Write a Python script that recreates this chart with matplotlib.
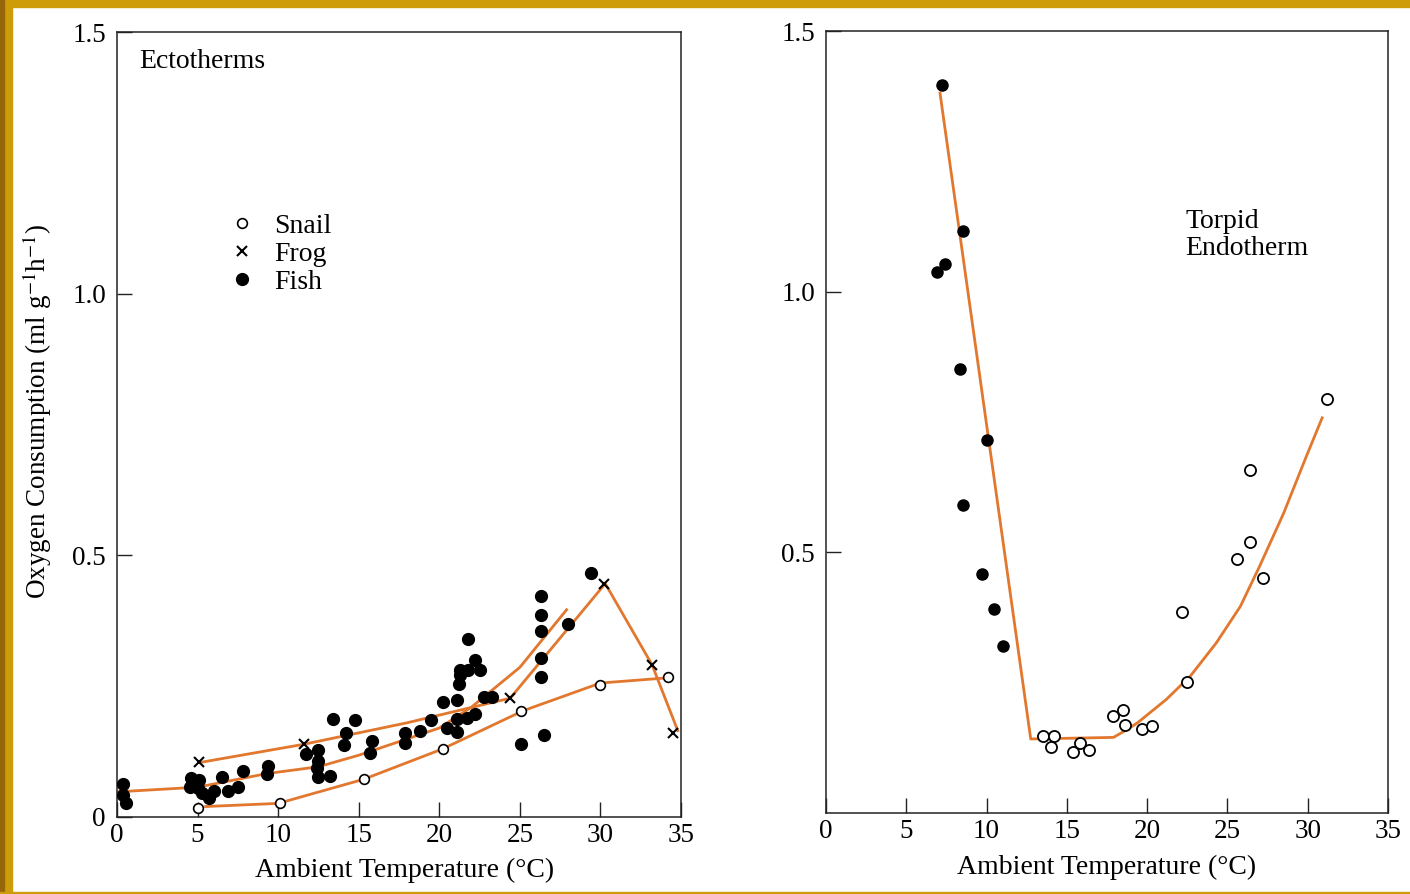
import matplotlib.pyplot as plt
from matplotlib.lines import Line2D
from matplotlib.patches import Rectangle

plt.rcParams['font.family'] = ['Liberation Serif', 'DejaVu Serif']
plt.rcParams['mathtext.fontset'] = 'stix'

orange = '#E2772E'

# ---- left panel: ectotherms ----
snail_x = [5.0, 10.1, 15.3, 20.2, 25.1, 30.0, 34.2]
snail_y = [0.017, 0.026, 0.072, 0.130, 0.203, 0.252, 0.267]
snail_line_x = [5.5, 10.0, 15.3, 20.2, 25.2, 30.0, 34.2]
snail_line_y = [0.020, 0.026, 0.072, 0.130, 0.203, 0.256, 0.266]

frog_x = [5.1, 11.6, 24.4, 30.2, 33.2, 34.5]
frog_y = [0.105, 0.139, 0.227, 0.445, 0.291, 0.160]
frog_line_x = [5.3, 11.6, 18.0, 24.4, 30.3, 33.2, 34.8]
frog_line_y = [0.105, 0.139, 0.180, 0.227, 0.446, 0.291, 0.165]

fish_x = [0.4, 0.4, 0.55, 4.6, 4.5, 5.1, 5.0, 5.3, 5.7, 6.0, 6.5, 6.9, 7.5, 7.8,
          9.4, 9.3, 11.7, 12.5, 12.5, 12.4, 12.5, 13.2, 13.4, 14.8, 14.2, 14.1,
          15.8, 15.7, 17.9, 17.9, 18.8, 19.5, 20.2, 21.1, 20.5, 21.1, 21.1, 21.7,
          22.2, 21.2, 21.3, 21.3, 21.8, 22.2, 22.5, 21.8, 22.8, 23.3, 25.1, 26.5,
          26.3, 26.3, 26.3, 26.3, 26.3, 28.0, 29.4]
fish_y = [0.064, 0.042, 0.026, 0.074, 0.058, 0.070, 0.055, 0.045, 0.037, 0.050,
          0.076, 0.050, 0.058, 0.088, 0.097, 0.083, 0.121, 0.128, 0.107, 0.093,
          0.076, 0.078, 0.187, 0.185, 0.161, 0.137, 0.145, 0.123, 0.161, 0.142,
          0.164, 0.186, 0.219, 0.224, 0.171, 0.162, 0.187, 0.189, 0.197, 0.255,
          0.272, 0.280, 0.281, 0.300, 0.280, 0.340, 0.229, 0.229, 0.139, 0.156,
          0.423, 0.386, 0.355, 0.303, 0.267, 0.368, 0.467]
fish_line_x = [0, 5, 9.3, 12.5, 15, 20, 22, 25, 27.9]
fish_line_y = [0.048, 0.057, 0.083, 0.096, 0.118, 0.170, 0.210, 0.286, 0.396]

# ---- right panel: torpid endotherm ----
torpid_x = [7.24, 8.54, 7.39, 6.93, 8.33, 10.0, 8.54, 9.69, 10.47, 11.05]
torpid_y = [1.397, 1.117, 1.054, 1.037, 0.851, 0.715, 0.591, 0.459, 0.392, 0.321]
active_x = [13.5, 14.2, 14.0, 15.4, 15.8, 16.4, 17.9, 18.5, 18.6, 19.7, 20.3,
            22.2, 22.5, 25.6, 26.4, 26.4, 27.2, 31.2]
active_y = [0.147, 0.148, 0.126, 0.117, 0.134, 0.121, 0.186, 0.197, 0.169, 0.162,
            0.167, 0.386, 0.252, 0.488, 0.520, 0.658, 0.451, 0.794]
endo_line_x = [7.1, 12.75, 17.9, 18.8, 19.4, 21.2, 22.7, 24.3, 25.8, 27.0, 28.5, 29.9, 30.9]
endo_line_y = [1.381, 0.142, 0.145, 0.161, 0.173, 0.218, 0.263, 0.326, 0.396, 0.473,
               0.575, 0.683, 0.758]

xticks = [0, 5, 10, 15, 20, 25, 30, 35]

fig = plt.figure(figsize=(14.10, 8.94), dpi=100)
fig.patch.set_facecolor('white')
# scanned-page border
fig.add_artist(Rectangle((0, 1 - 7 / 894), 1, 7 / 894, transform=fig.transFigure,
                         color='#CE9C08', zorder=0))
fig.add_artist(Rectangle((0, 0), 12 / 1410, 1, transform=fig.transFigure,
                         color='#CE9C08', zorder=0))
fig.add_artist(Rectangle((0, 0), 4 / 1410, 1, transform=fig.transFigure,
                         color='#96660A', zorder=0))
fig.add_artist(Rectangle((0, 0), 1, 2.5 / 894, transform=fig.transFigure,
                         color='#CE9C08', zorder=0))

ax1 = fig.add_axes([117 / 1410, 77 / 894, 564 / 1410, 785 / 894])
ax2 = fig.add_axes([826 / 1410, 81 / 894, 562 / 1410, 782 / 894])

for ax in (ax1, ax2):
    ax.set_xlim(0, 35)
    ax.set_ylim(0, 1.5)
    ax.set_xticks(xticks)
    ax.tick_params(direction='in', length=11, width=1, labelsize=19.5,
                   top=False, right=False, color='#222222')
    ax.tick_params(axis='x', pad=4)
    ax.tick_params(axis='y', pad=8)
    for s in ax.spines.values():
        s.set_linewidth(1.1)
        s.set_color('#222222')

ax1.set_yticks([0, 0.5, 1.0, 1.5])
ax1.set_yticklabels(['0', '0.5', '1.0', '1.5'])
ax2.set_yticks([0.5, 1.0, 1.5])
ax2.set_yticklabels(['0.5', '1.0', '1.5'])

# left panel
ax1.plot(snail_line_x, snail_line_y, color=orange, lw=2)
ax1.plot(frog_line_x, frog_line_y, color=orange, lw=2)
ax1.plot(fish_line_x, fish_line_y, color=orange, lw=2)
ax1.plot(fish_x, fish_y, 'o', ms=8.5, color='black', ls='none', zorder=3)
ax1.plot(snail_x, snail_y, 'o', ms=7, mfc='white', mec='black', mew=1.2, ls='none', zorder=4)
ax1.plot(frog_x, frog_y, 'x', ms=6.5, mec='black', mew=1.5, ls='none', zorder=4)

ax1.text(0.039, 0.962, 'Ectotherms', transform=ax1.transAxes, fontsize=20,
         va='center', ha='left')

handles = [Line2D([], [], marker='o', ms=7, mfc='white', mec='black', mew=1.2, ls='none'),
           Line2D([], [], marker='x', ms=6.5, mec='black', mew=1.5, ls='none'),
           Line2D([], [], marker='o', ms=8.5, color='black', ls='none')]
ax1.legend(handles, ['Snail', 'Frog', 'Fish'], loc='upper left',
           bbox_to_anchor=(0.177, 0.787), frameon=False, fontsize=20,
           borderpad=0, handlelength=0.8, handletextpad=0.75, labelspacing=0.1)

ax1.set_xlabel('Ambient Temperature (°C)', fontsize=20)
ax1.xaxis.set_label_coords(0.51, -0.052)
fig.text(37 / 1410, 1 - 411 / 894, r'Oxygen Consumption (ml g$^{-1}$h$^{-1}$)',
         rotation=90, fontsize=19.5, ha='center', va='center')

# right panel
ax2.plot(endo_line_x, endo_line_y, color=orange, lw=2)
ax2.plot(torpid_x, torpid_y, 'o', ms=8, color='black', ls='none', zorder=3)
ax2.plot(active_x, active_y, 'o', ms=8, mfc='white', mec='black', mew=1.3, ls='none', zorder=4)
ax2.text(0.639, 0.772, 'Torpid\nEndotherm', transform=ax2.transAxes, fontsize=20,
         va='top', ha='left', linespacing=1.08)
ax2.set_xlabel('Ambient Temperature (°C)', fontsize=20, labelpad=8)

fig.savefig('out.png', dpi=100)
